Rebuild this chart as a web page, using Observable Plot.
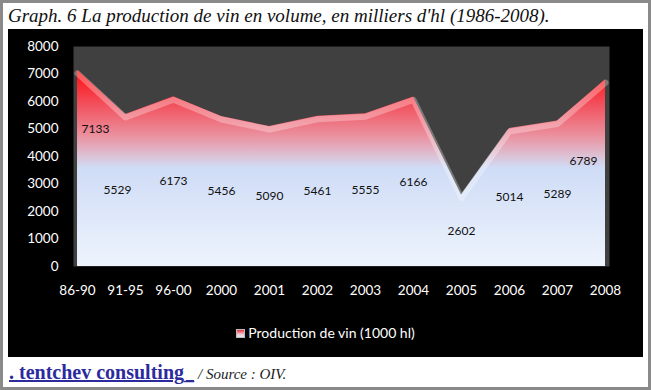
<!DOCTYPE html>
<html><head><meta charset="utf-8">
<script src="https://cdn.jsdelivr.net/npm/d3@7"></script>
<script src="https://cdn.jsdelivr.net/npm/@observablehq/plot@0.6"></script>
<style>
html,body{margin:0;padding:0;background:#fff;}
#frame{position:relative;width:651px;height:390px;box-sizing:border-box;border:3px solid #8a8a8a;background:#fff;overflow:hidden;}
#title{position:absolute;left:5px;top:3px;font:italic 19px "Liberation Serif","DejaVu Serif",serif;line-height:20px;color:#111;white-space:nowrap;}
#black{position:absolute;left:5px;top:26px;width:635px;height:328px;background:#000;}
#chart{position:absolute;left:0;top:0;}
#legend{position:absolute;left:0;top:294px;width:635px;height:20px;text-align:center;color:#fff;font:14px Lato,sans-serif;line-height:20px;}
#legend .sw{display:inline-block;width:9px;height:9px;margin-right:3px;vertical-align:0px;background:linear-gradient(#e8303c,#f2c6d0 60%,#dfe8f8);border:1px solid #bbb;box-sizing:border-box;}
#footer{position:absolute;left:6px;top:358px;white-space:nowrap;line-height:20px;}
#footer .brand{font:bold 20px "Liberation Serif",serif;color:#2b2b9e;text-decoration:underline;}
#footer .src{font:italic 15px "Liberation Serif",serif;color:#222;}
</style>
</head><body>
<div id="frame">
  <div id="title">Graph. 6 La production de vin en volume, en milliers d'hl (1986-2008).</div>
  <div id="black">
    <div id="chart"></div>
    <div id="legend"></div>
  </div>
  <div id="footer"><span class="brand">. tentchev consulting_</span> <span class="src">/ Source : OIV.</span></div>
</div>
<script>
const categories = ["86-90","91-95","96-00","2000","2001","2002","2003","2004","2005","2006","2007","2008"];
const production = [7133,5529,6173,5456,5090,5461,5555,6166,2602,5014,5289,6789];
const yTicks = [0,1000,2000,3000,4000,5000,6000,7000,8000];
const seriesName = "Production de vin (1000 hl)";

const data = categories.map((c, i) => ({cat: c, value: production[i]}));

const gradientDefs = (index, scales) => {
  const g = d3.create("svg:g");
  const lg = g.append("defs").append("linearGradient")
    .attr("id", "wineGrad").attr("gradientUnits", "userSpaceOnUse")
    .attr("x1", 0).attr("x2", 0)
    .attr("y1", scales.y(d3.max(production))).attr("y2", scales.y(0));
  [[0, "#ff0a0a"], [0.16, "#f34a56"], [0.33, "#eb8e9c"], [0.44, "#dcc2d6"], [0.5, "#cfdcf6"], [1, "#eef4fd"]]
    .forEach(([o, c]) => lg.append("stop").attr("offset", o).attr("stop-color", c));
  return g.node();
};

const labelText = d => String(d.value);
const chart = Plot.plot({
  width: 635, height: 290,
  marginLeft: 65, marginRight: 34, marginTop: 17, marginBottom: 53,
  style: {background: "#000", color: "#fff", fontFamily: "Lato, sans-serif", fontSize: "13.5px"},
  x: {type: "point", domain: categories, padding: 0, label: null},
  y: {domain: [0, 8000], label: null},
  marks: [
    gradientDefs,
    Plot.frame({fill: "#404040"}),
    Plot.areaY(data, {x: "cat", y: "value", fill: "url(#wineGrad)"}),
    Plot.lineY(data, {x: "cat", y: "value", stroke: "#fff", strokeOpacity: 0.3, strokeWidth: 6, dy: 3}),
    Plot.text(data, {filter: (d, i) => i > 1 && i < 11, x: "cat", y: d => d.value / 2, text: labelText, fill: "#111", fontSize: 12}),
    Plot.text(data, {filter: (d, i) => i === 0, x: "cat", y: d => d.value / 2, text: labelText, fill: "#111", fontSize: 12, dx: 18, dy: -39}),
    Plot.text(data, {filter: (d, i) => i === 1, x: "cat", y: d => d.value / 2, text: labelText, fill: "#111", fontSize: 12, dx: -8}),
    Plot.text(data, {filter: (d, i) => i === 11, x: "cat", y: d => d.value / 2, text: labelText, fill: "#111", fontSize: 12, dx: -22, dy: -12}),
    Plot.axisY({ticks: yTicks, tickSize: 0, tickPadding: 15, tickFormat: d3.format("d"), fill: "#fff", label: null}),
    Plot.axisX({tickSize: 0, tickPadding: 19, fill: "#fff", label: null})
  ]
});
document.getElementById("chart").appendChild(chart);
document.getElementById("legend").innerHTML = '<span class="sw"></span>' + seriesName;
</script>
</body></html>
